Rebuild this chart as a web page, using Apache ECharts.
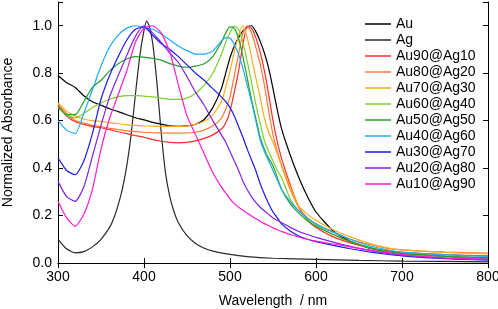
<!DOCTYPE html>
<html>
<head>
<meta charset="utf-8">
<script src="https://cdn.jsdelivr.net/npm/echarts@6/dist/echarts.min.js"></script>
<style>
  html, body { margin: 0; padding: 0; background: #fff; }
  #chart { width: 498px; height: 309px; }
</style>
</head>
<body>
<div id="chart"></div>
<script>
// wavelength grid (nm) shared by the alloy spectra and Au
var wl = [300,310,320,330,340,350,360,370,380,390,400,410,420,430,440,450,460,470,480,
  490,495,500,505,510,515,520,525,530,535,540,545,550,555,560,
  570,580,590,600,620,640,660,680,700,750,800];

// Ag has a narrow peak, so it gets its own grid
var wlAg = [300,310,320,330,340,350,360,365,370,375,380,385,390,395,400,403,406,410,415,420,425,430,435,440,450,460,470,480,500,520,550,600,650,700,800];
var ag = [0.10,0.06,0.043,0.048,0.068,0.10,0.15,0.19,0.245,0.315,0.41,0.54,0.71,0.87,0.98,1.02,1.0,0.93,0.76,0.55,0.38,0.28,0.215,0.17,0.115,0.082,0.062,0.05,0.036,0.027,0.02,0.015,0.011,0.008,0.005];

var au = [0.79,0.76,0.74,0.705,0.68,0.665,0.65,0.638,0.625,0.612,0.603,0.593,0.585,0.578,0.576,0.578,0.585,0.605,0.655,
  0.735,0.80,0.865,0.915,0.95,0.978,0.995,1.0,0.975,0.935,0.885,0.82,0.735,0.645,0.565,
  0.455,0.36,0.28,0.215,0.135,0.092,0.065,0.05,0.04,0.028,0.02];
var au90 = [0.665,0.62,0.595,0.584,0.575,0.57,0.562,0.553,0.545,0.537,0.53,0.52,0.513,0.508,0.506,0.508,0.515,0.525,0.54,
  0.565,0.59,0.64,0.72,0.81,0.92,0.995,0.99,0.95,0.89,0.81,0.71,0.60,0.51,0.44,
  0.33,0.235,0.18,0.15,0.11,0.085,0.066,0.053,0.045,0.035,0.03];
var au80 = [0.67,0.63,0.60,0.59,0.58,0.575,0.568,0.562,0.557,0.554,0.551,0.549,0.548,0.547,0.547,0.548,0.551,0.56,0.578,
  0.61,0.65,0.70,0.79,0.88,0.97,1.0,0.97,0.91,0.84,0.75,0.64,0.54,0.47,0.41,
  0.31,0.235,0.19,0.165,0.13,0.1,0.08,0.064,0.055,0.046,0.042];
var au70 = [0.675,0.64,0.62,0.607,0.60,0.597,0.592,0.587,0.582,0.58,0.578,0.577,0.576,0.576,0.576,0.577,0.585,0.597,0.625,
  0.68,0.74,0.81,0.89,0.96,1.0,0.95,0.87,0.78,0.70,0.61,0.55,0.51,0.46,0.41,
  0.32,0.24,0.205,0.18,0.14,0.11,0.085,0.066,0.055,0.045,0.038];
var au60 = [0.655,0.625,0.612,0.63,0.655,0.675,0.69,0.70,0.705,0.705,0.703,0.70,0.695,0.69,0.69,0.695,0.715,0.75,0.80,
  0.88,0.93,0.97,1.0,0.985,0.93,0.85,0.76,0.67,0.59,0.515,0.47,0.43,0.39,0.36,
  0.27,0.22,0.185,0.16,0.12,0.09,0.067,0.05,0.04,0.028,0.022];
var au50 = [0.66,0.625,0.625,0.68,0.74,0.77,0.81,0.84,0.86,0.87,0.868,0.862,0.855,0.84,0.83,0.825,0.83,0.84,0.87,
  0.93,0.97,0.995,0.99,0.945,0.87,0.78,0.69,0.61,0.53,0.48,0.44,0.41,0.36,0.31,
  0.25,0.21,0.178,0.155,0.12,0.09,0.068,0.05,0.04,0.028,0.022];
var au40 = [0.60,0.56,0.545,0.63,0.73,0.83,0.91,0.96,0.99,1.0,0.99,0.985,0.965,0.94,0.915,0.895,0.88,0.88,0.893,
  0.935,0.95,0.948,0.92,0.88,0.82,0.75,0.68,0.60,0.52,0.47,0.43,0.39,0.35,0.31,
  0.26,0.22,0.19,0.165,0.13,0.1,0.075,0.058,0.046,0.035,0.028];
var au30 = [0.443,0.39,0.372,0.43,0.545,0.69,0.79,0.87,0.94,0.985,0.995,0.96,0.925,0.90,0.87,0.835,0.80,0.77,0.735,
  0.70,0.68,0.655,0.62,0.575,0.53,0.48,0.435,0.39,0.335,0.29,0.25,0.215,0.19,0.165,
  0.135,0.114,0.1,0.09,0.074,0.06,0.048,0.038,0.03,0.018,0.012];
var au20 = [0.344,0.28,0.26,0.32,0.45,0.58,0.70,0.79,0.875,0.955,1.0,0.97,0.93,0.885,0.845,0.785,0.72,0.665,0.60,
  0.54,0.51,0.47,0.43,0.39,0.345,0.31,0.28,0.255,0.235,0.22,0.205,0.19,0.18,0.17,
  0.15,0.133,0.12,0.108,0.088,0.07,0.055,0.042,0.033,0.02,0.015];
var au10 = [0.26,0.19,0.155,0.205,0.31,0.48,0.61,0.71,0.81,0.93,0.99,1.0,0.97,0.89,0.75,0.62,0.54,0.46,0.38,
  0.32,0.295,0.27,0.25,0.235,0.222,0.21,0.198,0.187,0.176,0.166,0.157,0.148,0.14,0.133,
  0.12,0.11,0.1,0.092,0.08,0.068,0.055,0.045,0.035,0.022,0.015];

var names = ['Au','Ag','Au90@Ag10','Au80@Ag20','Au70@Ag30','Au60@Ag40','Au50@Ag50','Au40@Ag60','Au30@Ag70','Au20@Ag80','Au10@Ag90'];
var colors = ['#000000','#2a2a2a','#ff2a2a','#ff7a35','#ffaa1a','#7fcf2e','#22a02a','#1eaaf5','#1a1aee','#7d22e6','#ff1ad2'];

function pairs(xs, ys) {
  var out = [];
  for (var i = 0; i < xs.length; i++) out.push([xs[i], ys[i]]);
  return out;
}

var spectra = [
  pairs(wl, au), pairs(wlAg, ag), pairs(wl, au90), pairs(wl, au80), pairs(wl, au70),
  pairs(wl, au60), pairs(wl, au50), pairs(wl, au40), pairs(wl, au30), pairs(wl, au20), pairs(wl, au10)
];

var font = '"Liberation Sans", Arial, sans-serif';

var series = [];
for (var i = 0; i < names.length; i++) {
  series.push({
    name: names[i],
    type: 'line',
    data: spectra[i],
    symbol: 'none',
    smooth: 0.2,
    lineStyle: { color: colors[i], width: 1.2 },
    itemStyle: { color: colors[i] }
  });
}

var chart = echarts.init(document.getElementById('chart'));
var option = {
  animation: false,
  backgroundColor: '#fff',
  grid: { left: 58, right: 10, top: 2, bottom: 46, containLabel: false, outerBoundsMode: 'none' },
  legend: {
    orient: 'vertical',
    left: 360,
    top: 12,
    icon: 'rect',
    itemWidth: 26,
    itemHeight: 1.5,
    itemGap: 2,
    data: names,
    textStyle: { fontFamily: font, fontSize: 14, lineHeight: 14, color: '#000' }
  },
  xAxis: [{
    type: 'value', min: 300, max: 800, interval: 100,
    name: 'Wavelength  / nm', nameLocation: 'middle', nameGap: 31,
    nameTextStyle: { fontFamily: font, fontSize: 14, color: '#000' },
    axisLine: { lineStyle: { color: '#000', width: 1 } },
    axisTick: { inside: true, length: 5, lineStyle: { color: '#000' } },
    axisLabel: { margin: 7, fontFamily: font, fontSize: 14, color: '#000' },
    splitLine: { show: false }
  }, {
    // mirror axis on top
    type: 'value', position: 'top', min: 300, max: 800, interval: 100,
    axisLine: { lineStyle: { color: '#000', width: 1 } },
    axisTick: { inside: true, length: 5, lineStyle: { color: '#000' } },
    axisLabel: { show: false },
    splitLine: { show: false }
  }],
  yAxis: [{
    type: 'value', min: 0, max: 1.1, interval: 0.2,
    name: 'Normalized Absorbance', nameLocation: 'middle', nameGap: 43,
    nameTextStyle: { fontFamily: font, fontSize: 14, color: '#000' },
    axisLine: { show: true, lineStyle: { color: '#000', width: 1 } },
    axisTick: { show: true, inside: true, length: 5, lineStyle: { color: '#000' } },
    axisLabel: {
      margin: 6, fontFamily: font, fontSize: 14, color: '#000',
      formatter: function (v) { return v > 1.05 ? '' : v.toFixed(1); }
    },
    splitLine: { show: false }
  }, {
    // mirror axis on the right
    type: 'value', position: 'right', min: 0, max: 1.1, interval: 0.2,
    axisLine: { show: true, lineStyle: { color: '#000', width: 1 } },
    axisTick: { show: true, inside: true, length: 5, lineStyle: { color: '#000' } },
    axisLabel: { show: false },
    splitLine: { show: false }
  }],
  series: series
};
chart.setOption(option);
</script>
</body>
</html>
